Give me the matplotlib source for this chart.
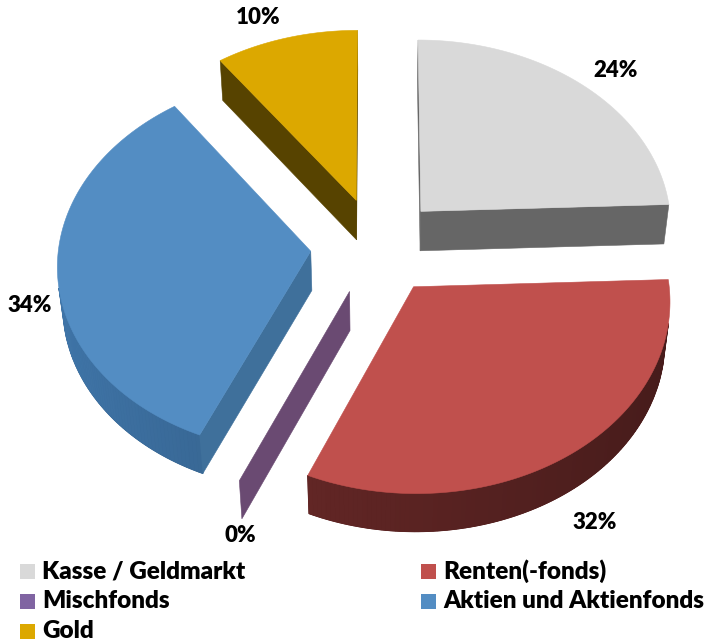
import matplotlib.pyplot as plt
import numpy as np
from matplotlib.patches import Polygon, Rectangle
from matplotlib.colors import to_rgb

# data
labels = ["Kasse / Geldmarkt", "Renten(-fonds)", "Mischfonds",
          "Aktien und Aktienfonds", "Gold"]
shares = [24.4, 32.1, 0.0, 33.6, 9.9]
top_colors = ["#d9d9d9", "#c0504d", "#8064a2", "#538dc3", "#dca800"]
rim_colors = ["#6a6a6a", "#5a2322", "#6b4a72", "#34608a", "#574300"]
cut_colors = ["#666666", "#5a2322", "#6a4a72", "#3f709b", "#574300"]

# view settings (pixel space of the 707x643 canvas)
PHI = np.radians(48)
DIST = 10.0
SCALE = 252
CX, CY = 376, 246
EXPLODE = 0.26
THICK = 40 / (SCALE * np.cos(PHI))
# label placement tweaks: radius and angle shift (deg) per slice
LABEL_R = [1.165, 1.298, 1.223, 1.122, 1.161]
LABEL_DA = [-1.7, -4.7, 5.0, 8.4, 3.9]

plt.rcParams['font.family'] = ['Lato', 'DejaVu Sans']


def project(X, Y, Z):
    X, Y, Z = np.asarray(X, float), np.asarray(Y, float), np.asarray(Z, float)
    yc = Y * np.sin(PHI) + Z * np.cos(PHI)
    zc = Y * np.cos(PHI) - Z * np.sin(PHI)
    s = DIST / (DIST + zc)
    return CX + SCALE * X * s, CY - SCALE * yc * s, zc


CAM = np.array([0.0, -DIST * np.cos(PHI), DIST * np.sin(PHI)])


def visible(normal, point):
    return np.dot(normal, CAM - point) > 0


def shade(color, f):
    return tuple(np.clip(np.array(to_rgb(color)) * f, 0, 1))


def face(ax, pts3d, color, z=1, lw=0.4):
    pts = np.array(pts3d)
    x, y, _ = project(pts[:, 0], pts[:, 1], pts[:, 2])
    ax.add_patch(Polygon(np.column_stack([x, y]), closed=True, facecolor=color,
                         edgecolor=color, linewidth=lw, zorder=z))


fig = plt.figure(figsize=(7.07, 6.43), dpi=100)
ax = fig.add_axes([0, 0, 1, 1])
ax.set_xlim(0, 707)
ax.set_ylim(643, 0)
ax.axis("off")

# slice angles, clockwise from 12 o'clock
starts, ends = [], []
a = 90.0
for v in shares:
    starts.append(a)
    a -= 360 * v / 100
    ends.append(a)

slices = []
for i in range(len(shares)):
    t0, t1 = np.radians(starts[i]), np.radians(ends[i])
    mid = (t0 + t1) / 2
    off = EXPLODE * np.array([np.cos(mid), np.sin(mid), 0])
    _, _, depth = project(off[0], off[1], 0)
    slices.append((depth, i, t0, t1, mid, off))

top, bot = 0.0, -THICK
for depth, i, t0, t1, mid, off in sorted(slices, key=lambda s: -s[0]):
    n = max(int(abs(t0 - t1) / np.radians(1.0)), 1)
    th = np.linspace(t1, t0, n + 1)
    faces = []
    # outer curved side: one base band, then shaded strips over it
    if t0 != t1:
        vis = [visible(np.array([np.cos(t), np.sin(t), 0]),
                       off + [np.cos(t), np.sin(t), 0]) for t in th]
        run = th[np.array(vis)]
        if len(run) > 1:
            upper = [off + [np.cos(t), np.sin(t), top] for t in run]
            lower = [off + [np.cos(t), np.sin(t), bot] for t in run[::-1]]
            face(ax, upper + lower, rim_colors[i], z=2, lw=0.8)
            for a1, a2 in zip(run[:-1], run[1:]):
                am = (a1 + a2) / 2
                q = [off + [np.cos(a1), np.sin(a1), top], off + [np.cos(a2), np.sin(a2), top],
                     off + [np.cos(a2), np.sin(a2), bot], off + [np.cos(a1), np.sin(a1), bot]]
                face(ax, q, shade(rim_colors[i], 1 - 0.22 * np.cos(am)), z=2.1, lw=0.6)
    # flat cut faces
    for ang, nrm in [(t0, np.array([-np.sin(t0), np.cos(t0), 0])),
                     (t1, np.array([np.sin(t1), -np.cos(t1), 0]))]:
        rim = off + [np.cos(ang), np.sin(ang), 0]
        if visible(nrm, (off + rim) / 2):
            q = [off, rim, rim + [0, 0, bot], off + [0, 0, bot]]
            face(ax, q, cut_colors[i], z=2.2)
            if t0 == t1:
                break
    # top face
    if t0 != t1:
        pts = [off + [0, 0, 0]] + [off + [np.cos(t), np.sin(t), 0] for t in th]
        face(ax, pts, top_colors[i], z=3)

# percentage labels
for i, v in enumerate(shares):
    mid = np.radians((starts[i] + ends[i]) / 2)
    off = EXPLODE * np.array([np.cos(mid), np.sin(mid)])
    la = mid + np.radians(LABEL_DA[i])
    r = LABEL_R[i]
    lx, ly, _ = project(off[0] + r * np.cos(la), off[1] + r * np.sin(la), 0)
    ax.text(lx, ly, f"{v:.0f}%", ha="center", va="center", fontsize=16,
            fontweight="heavy", color="black", zorder=5)

# legend, Excel style: two columns, row-major
for k, name in enumerate(labels):
    col, row = k % 2, k // 2
    x0 = 20 if col == 0 else 421
    yc = 571 + row * 30
    ax.add_patch(Rectangle((x0, yc - 7.5), 15, 15, facecolor=top_colors[k],
                           edgecolor="none", zorder=5))
    ax.text(x0 + 22, yc, name, ha="left", va="center", fontsize=17.5,
            fontweight="heavy", color="black", zorder=5)

fig.savefig("out.png", dpi=100)
